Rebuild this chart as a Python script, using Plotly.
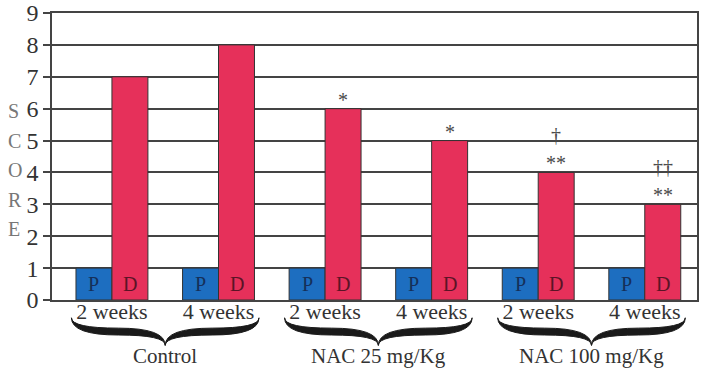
import plotly.graph_objects as go

# ---- data ----
groups = ["Control", "NAC 25 mg/Kg", "NAC 100 mg/Kg"]
periods = ["2 weeks", "4 weeks", "2 weeks", "4 weeks", "2 weeks", "4 weeks"]
p_values = [1, 1, 1, 1, 1, 1]
d_values = [7, 8, 6, 5, 4, 3]
sig_star = ["", "", "*", "*", "**", "**"]
sig_dagger = ["", "", "", "", "†", "††"]
y_ticks = list(range(10))
score_letters = ["S", "C", "O", "R", "E"]

BLUE = "#1d6ec0"
RED = "#e6305a"
FONT = "Liberation Serif, Times New Roman, serif"
TXT = "#333333"

xpos = list(range(len(periods)))
w = 0.3375

fig = go.Figure()
fig.add_bar(x=xpos, y=p_values, width=w, offset=-w,
            marker=dict(color=BLUE, line=dict(color="#333", width=1)),
            hoverinfo="skip", showlegend=False)
fig.add_bar(x=xpos, y=d_values, width=w, offset=0,
            marker=dict(color=RED, line=dict(color="#333", width=1)),
            hoverinfo="skip", showlegend=False)

ann = []
for i in xpos:
    ann.append(dict(x=i - w / 2, y=0.5, xref="x", yref="y", text="P", showarrow=False,
                    font=dict(family=FONT, size=20, color="#15305a"), yanchor="middle"))
    ann.append(dict(x=i + w / 2, y=0.5, xref="x", yref="y", text="D", showarrow=False,
                    font=dict(family=FONT, size=20, color="#5a1426"), yanchor="middle"))
    if sig_star[i]:
        ann.append(dict(x=i + w / 2, y=d_values[i], xref="x", yref="y", text=sig_star[i],
                        showarrow=False, yanchor="bottom", yshift=-4,
                        font=dict(family=FONT, size=20, color="#4a4a4a")))
    if sig_dagger[i]:
        ann.append(dict(x=i + w / 2, y=d_values[i], xref="x", yref="y", text=sig_dagger[i],
                        showarrow=False, yanchor="bottom", yshift=24,
                        font=dict(family=FONT, size=20, color="#4a4a4a")))

# group labels
for g, name in enumerate(groups):
    c = 2 * g + 0.5
    ann.append(dict(x=c, y=-0.195, xref="x", yref="paper", text=name, showarrow=False,
                    yanchor="middle", font=dict(family=FONT, size=21, color=TXT)))

# S C O R E letters
for k, L in enumerate(score_letters):
    ann.append(dict(x=-0.072, y=(300 - (111 + 29.5 * k)) / 287, xref="paper", yref="paper",
                    text=L, showarrow=False, yanchor="middle",
                    font=dict(family=FONT, size=20, color="#777")))

# braces
shapes = []
hw = 0.88
e, mu, ml, tip = -0.062, -0.098, -0.122, -0.158
for g in range(len(groups)):
    c = 2 * g + 0.5
    L, R = c - hw, c + hw
    path = (f"M {L},{e} Q {L},{mu} {c-hw/2},{mu} Q {c},{mu} {c},{tip} "
            f"Q {c},{mu} {c+hw/2},{mu} Q {R},{mu} {R},{e} "
            f"Q {R},{ml} {c+hw/2},{ml} Q {c},{ml} {c},{tip} "
            f"Q {c},{ml} {c-hw/2},{ml} Q {L},{ml} {L},{e} Z")
    shapes.append(dict(type="path", path=path, xref="x", yref="paper",
                       fillcolor="#1a1a1a", line=dict(color="#1a1a1a", width=1)))

fig.update_layout(
    width=704, height=370,
    margin=dict(l=52, r=7, t=13, b=70),
    paper_bgcolor="white", plot_bgcolor="white",
    barmode="overlay",
    annotations=ann, shapes=shapes,
    xaxis=dict(range=[-0.5625, 5.49], tickvals=xpos, ticktext=periods,
               showgrid=False, zeroline=False, showline=True, mirror=True,
               linecolor="#444", linewidth=1.5, ticks="", automargin=False,
               ticklabelstandoff=-9,
               tickfont=dict(family=FONT, size=22, color=TXT)),
    yaxis=dict(range=[0, 9], tickvals=y_ticks, showgrid=True, gridcolor="#444",
               gridwidth=1.5, zeroline=False, showline=True, mirror=True,
               linecolor="#444", linewidth=1.5, ticks="outside", ticklen=7,
               tickcolor="#444", tickwidth=1.5, automargin=False,
               tickfont=dict(family=FONT, size=24, color=TXT)),
)

fig.write_html("out.html")
